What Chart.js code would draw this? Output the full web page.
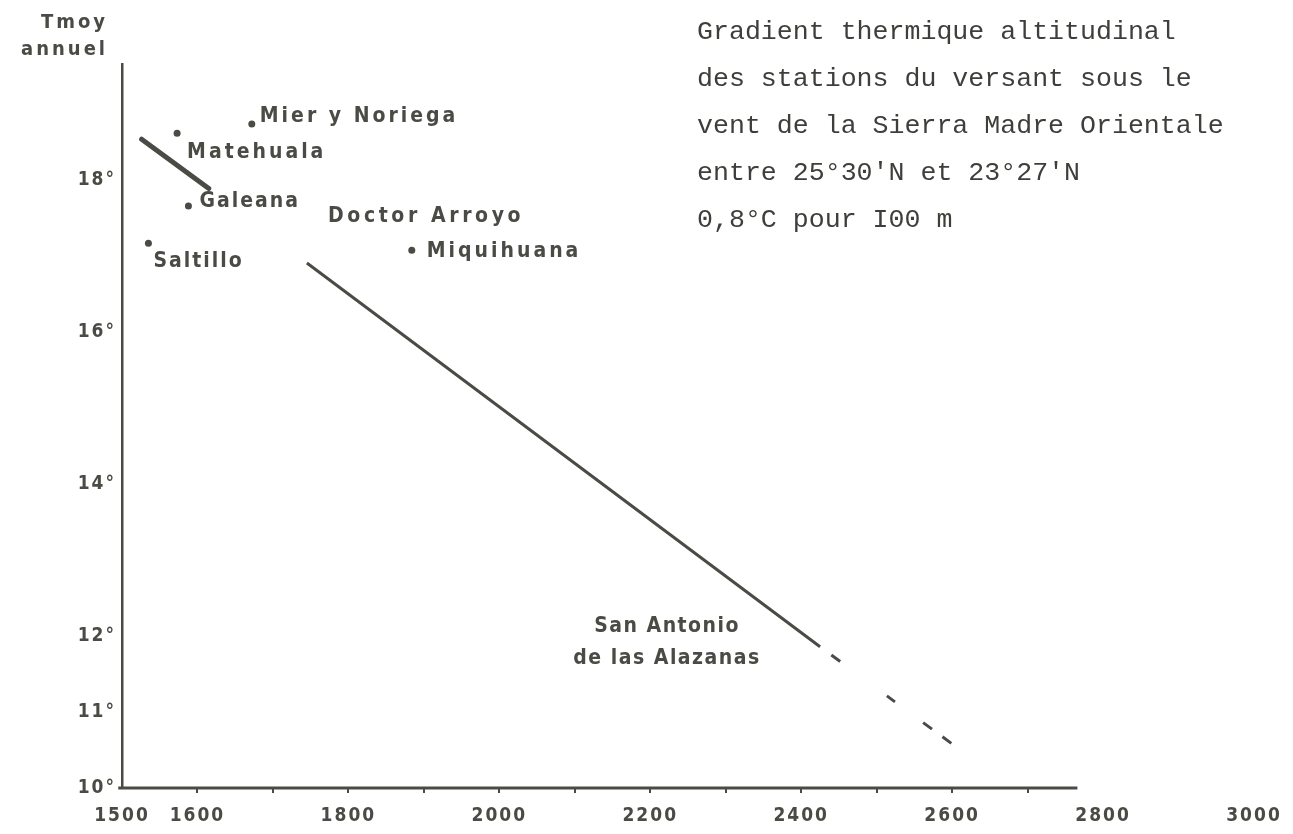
<!DOCTYPE html>
<html><head><meta charset="utf-8">
<script src="https://cdn.jsdelivr.net/npm/chart.js@4.4.1/dist/chart.umd.min.js"></script>
<style>
html,body{margin:0;padding:0;background:#fff;}
#wrap{position:relative;width:1293px;height:834px;overflow:hidden;}
canvas{position:absolute;left:0;top:0;}
#note{position:absolute;left:697px;top:9px;font-family:"Liberation Mono",monospace;font-size:26.6px;line-height:47px;color:#3e3e3a;white-space:pre;}
</style></head><body>
<div id="wrap"><canvas id="c" width="1293" height="834"></canvas><div id="note"></div></div>
<script>
// ---- data ----
const altitudeTickLabels = [1500, 1600, 1800, 2000, 2200, 2400, 2600, 2800, 3000];
const temperatureTicks = [10, 11, 12, 14, 16, 18];
const stationNames = ['Matehuala', 'Mier y Noriega', 'Galeana', 'Saltillo', 'Doctor Arroyo', 'Miquihuana', 'San Antonio\nde las Alazanas'];
const stationAltitudes = [1573, 1672, 1588, 1535, 1773, 1884, 2425];
const stationTemps = [18.62, 18.74, 17.66, 17.17, 17.45, 17.08, 11.86];
const stationDotted = [true, true, true, true, false, true, false];
const shortLineAlt = [1526, 1615];
const shortLineTemp = [18.54, 17.89];
const gradientAlt = [1745, 2425];
const gradientTemp = [16.91, 11.86];
const extrapAlt = [2425, 2600];
const extrapTemp = [11.86, 10.58];
const axisLineAlt = [1495, 2766];
const axisLineTemp = [10, 10];
const noteLines = ['Gradient thermique altitudinal', 'des stations du versant sous le', 'vent de la Sierra Madre Orientale', "entre 25°30'N et 23°27'N", '0,8°C pour I00 m'];
const yTitleLines = ['Tmoy', 'annuel'];

document.getElementById('note').textContent = noteLines.join('\n');

// ---- styles ----
const INK = '#4b4b46';
const LETTER_FONT = '"DejaVu Sans Condensed", "DejaVu Sans", sans-serif';
const labelStyle = [
  {dx: 10, dy: 25, align: 'left', ls: 3},
  {dx: 8, dy: -2, align: 'left', ls: 3},
  {dx: 11, dy: 1, align: 'left', ls: 2},
  {dx: 5, dy: 24, align: 'left', ls: 2},
  {dx: 0, dy: 0, align: 'left', ls: 3.6},
  {dx: 15, dy: 7, align: 'left', ls: 3},
  {dx: -153, dy: -15, align: 'center', ls: 1.5, lineGap: 32}
];

const pts = (xs, ys) => xs.map((x, i) => ({x, y: ys[i]}));

const labelPlugin = {
  id: 'labels',
  beforeDraw(chart) { chart.ctx.letterSpacing = '2px'; },
  afterDatasetsDraw(chart) {
    const ctx = chart.ctx;
    const meta = chart.getDatasetMeta(4);
    ctx.save();
    ctx.fillStyle = INK;
    ctx.font = 'bold 21px ' + LETTER_FONT;
    ctx.textBaseline = 'alphabetic';
    stationNames.forEach((name, i) => {
      const el = meta.data[i];
      const st = labelStyle[i];
      ctx.letterSpacing = st.ls + 'px';
      ctx.textAlign = st.align;
      name.split('\n').forEach((line, k) => {
        ctx.fillText(line, el.x + st.dx, el.y + st.dy + k * (st.lineGap || 0));
      });
    });
    // y axis title
    const ca = chart.chartArea;
    ctx.letterSpacing = '3px';
    ctx.textAlign = 'right';
    ctx.font = 'bold 20px ' + LETTER_FONT;
    ctx.fillText(yTitleLines[0], ca.left - 14, ca.top - 36);
    ctx.fillText(yTitleLines[1], ca.left - 14, ca.top - 9);
    ctx.restore();
  },
  afterDraw(chart) { chart.ctx.letterSpacing = '0px'; }
};

new Chart(document.getElementById('c'), {
  type: 'scatter',
  data: {
    datasets: [
      {data: pts(axisLineAlt, axisLineTemp), showLine: true, borderColor: INK, borderWidth: 3, pointRadius: 0, clip: false},
      {data: pts(shortLineAlt, shortLineTemp), showLine: true, borderColor: INK, borderWidth: 5, borderCapStyle: 'round', pointRadius: 0},
      {data: pts(gradientAlt, gradientTemp), showLine: true, borderColor: INK, borderWidth: 3, pointRadius: 0},
      {data: pts(extrapAlt, extrapTemp), showLine: true, borderColor: INK, borderWidth: 3, pointRadius: 0,
       borderDash: [0, 14, 11, 58, 10, 35, 11, 13, 11, 60]},
      {data: pts(stationAltitudes, stationTemps), showLine: false,
       pointRadius: c => stationDotted[c.dataIndex] ? 3.5 : 0,
       pointBackgroundColor: INK, pointBorderWidth: 0}
    ]
  },
  options: {
    responsive: false,
    animation: false,
    devicePixelRatio: 1,
    layout: {padding: {left: 0, top: 64, right: 39, bottom: 0}},
    plugins: {legend: {display: false}, tooltip: {enabled: false}, title: {display: false}},
    scales: {
      x: {
        type: 'linear', position: 'bottom', min: 1500, max: 3000,
        afterFit: s => { s.height = 46; },
        border: {display: false},
        grid: {drawOnChartArea: false, drawTicks: true, tickLength: 5, lineWidth: 2,
               color: c => (c.tick && c.tick.value >= 1600 && c.tick.value <= 2700) ? INK : 'rgba(0,0,0,0)'},
        ticks: {stepSize: 100, autoSkip: false, maxRotation: 0, padding: 12, color: INK,
                font: {family: LETTER_FONT, size: 19, weight: 'bold'},
                callback: v => altitudeTickLabels.includes(v) ? String(v) : ''}
      },
      y: {
        type: 'linear', min: 10, max: 19.53,
        afterFit: s => { s.width = 122; },
        afterBuildTicks: s => { s.ticks = temperatureTicks.map(v => ({value: v})); },
        border: {display: true, color: INK, width: 2.5},
        grid: {display: false, drawTicks: false},
        ticks: {padding: 6, color: INK, font: {family: LETTER_FONT, size: 19, weight: 'bold'},
                callback: v => v + '°'}
      }
    }
  },
  plugins: [labelPlugin]
});
</script>
</body></html>
